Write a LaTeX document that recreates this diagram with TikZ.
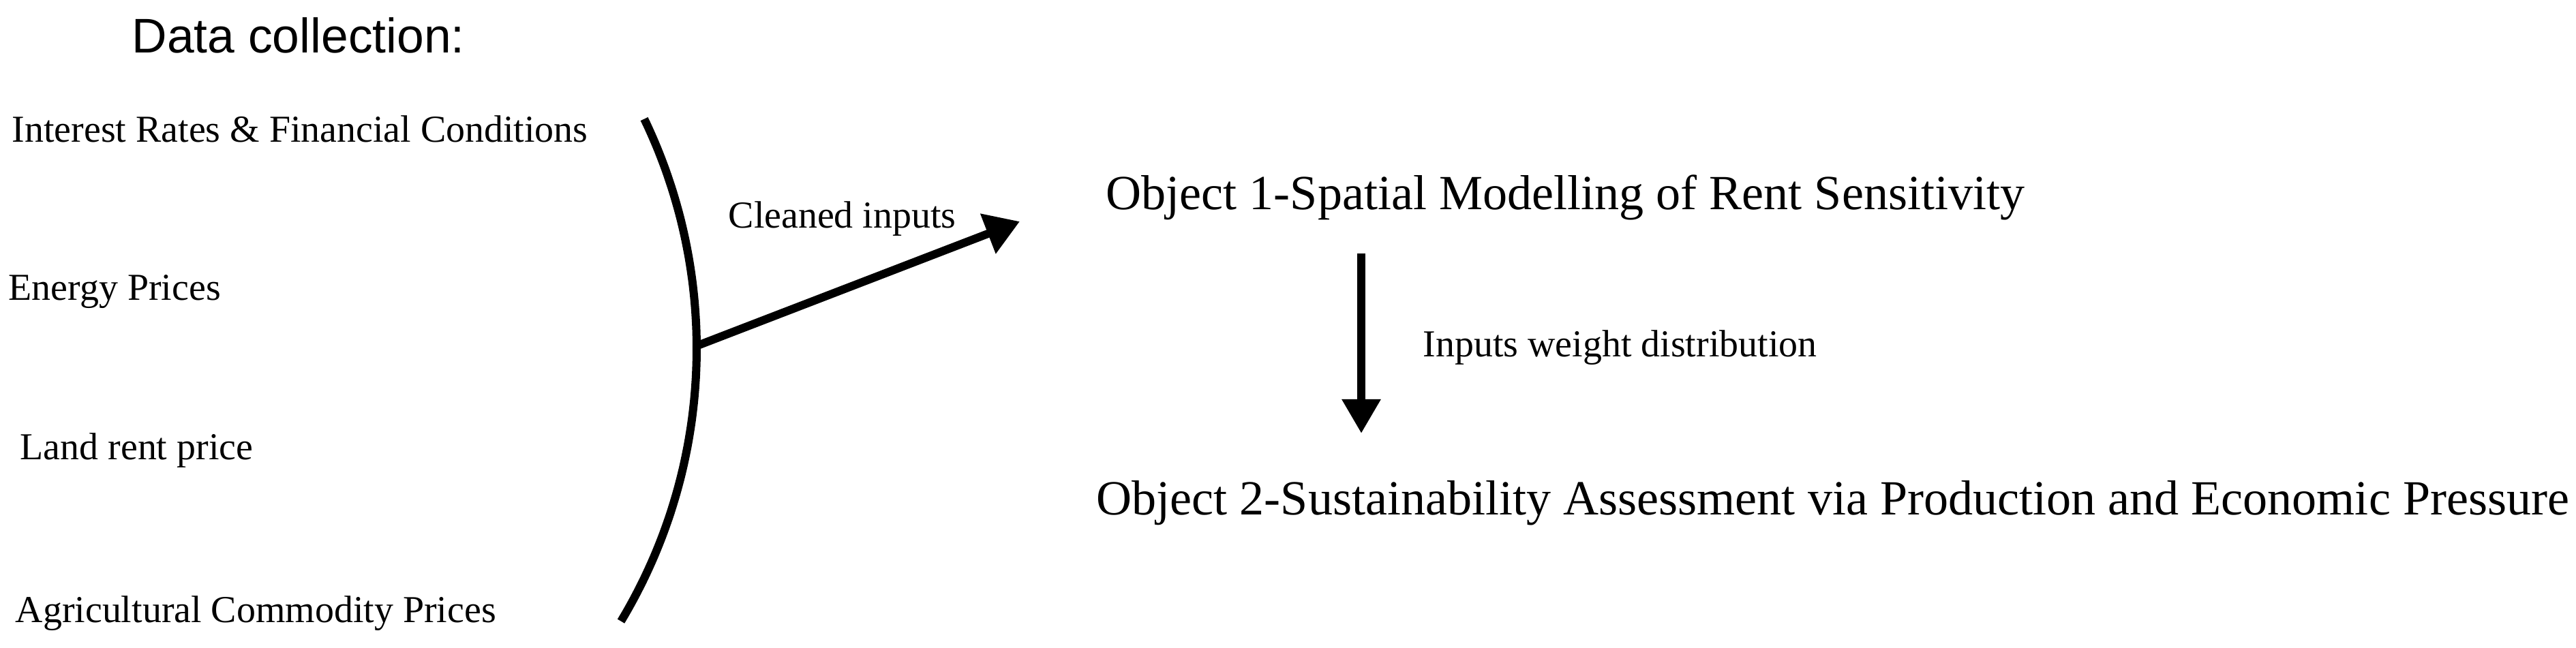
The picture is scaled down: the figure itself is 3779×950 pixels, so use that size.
\documentclass[tikz,border=0pt]{standalone}
\usepackage{fontspec}
\setmainfont{Liberation Serif}
\newfontfamily\titlefont{Liberation Sans}
\usetikzlibrary{arrows.meta}
\begin{document}
\begin{tikzpicture}[x=0.01cm,y=-0.01cm,
  lbl/.style={anchor=base west, inner sep=0pt, font=\fontsize{15.9pt}{18pt}\selectfont},
  obj/.style={anchor=base west, inner sep=0pt, font=\fontsize{20.5pt}{24pt}\selectfont},
  ttl/.style={anchor=base west, inner sep=0pt, font=\titlefont\fontsize{20.3pt}{24pt}\selectfont},
  flow/.style={line width=0.12cm, -{Triangle[length=0.5cm,width=0.6cm]}},
  bracket/.style={line width=0.12cm}]
\useasboundingbox (0,0) rectangle (3779,950);
% title
\node[ttl] (title) at (193,77) {Data collection:};
% data sources
\node[lbl] (rates) at (17,208) {Interest Rates \& Financial Conditions};
\node[lbl] (energy) at (12,440) {Energy Prices};
\node[lbl] (land) at (29,674) {Land rent price};
\node[lbl] (agri) at (22,913) {Agricultural Commodity Prices};
% bracket arc
\draw[bracket] plot[domain=-25.7:31, samples=80, smooth] ({245+777*cos(\x)}, {511.5+777*sin(\x)});
\coordinate (hub) at (1021,508);
\coordinate (tip1) at (1496,325);
\draw[flow] (hub) -- (tip1);
\node[lbl] (clean) at (1068,334) {Cleaned inputs};
% objectives
\node[obj] (obj1) at (1622,307) {Object 1-Spatial Modelling of Rent Sensitivity};
\node[obj] (obj2) at (1608,755) {Object 2-Sustainability Assessment via Production and Economic Pressure};
\coordinate (dtop) at (1997,372);
\coordinate (dbot) at (1997,636);
\draw[flow, -{Triangle[length=0.5cm,width=0.54cm]}] (dtop) -- (dbot);
\node[lbl] (weights) at (2087,523) {Inputs weight distribution};
\end{tikzpicture}
\end{document}
